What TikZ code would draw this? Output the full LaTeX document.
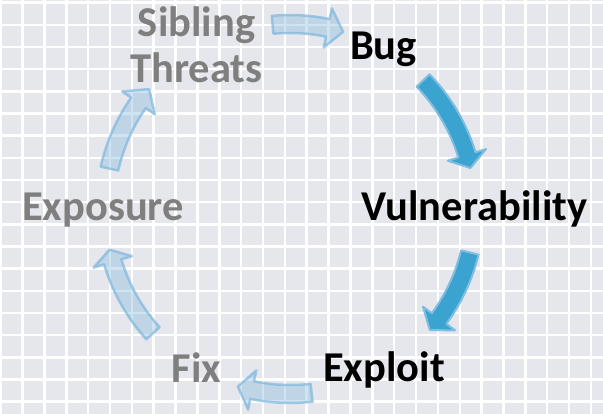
\documentclass[tikz,border=0pt]{standalone}
\usepackage{fontspec}
\setmainfont{Carlito}
\definecolor{cellgray}{RGB}{230,231,236}
\definecolor{stagegray}{RGB}{127,127,127}
\definecolor{arrowblue}{RGB}{59,163,208}
\definecolor{arrowedge}{RGB}{128,190,225}
\definecolor{arrowpale}{RGB}{120,180,220}

% block arrow on the cycle: style, tail angle, head base angle, tip angle
\newcommand{\cyclearrow}[4]{%
  \path[#1, shift={(hub)}] (#2:176pt) arc[start angle=#2, end angle=#3, radius=176pt]
    -- (#3:165pt) -- (#4:185pt) -- (#3:205pt) -- (#3:194pt)
    arc[start angle=#3, end angle=#2, radius=194pt] -- cycle;}

\begin{document}
\begin{tikzpicture}[x=1pt, y=1pt,
    stage/.style={font=\bfseries\fontsize{42.5}{46}\selectfont, inner sep=0pt, anchor=base, align=center},
    hot/.style={text=black},
    cold/.style={text=stagegray},
    gridline/.style={draw=white, line width=2.5pt},
    deeparrow/.style={fill=arrowblue, draw=arrowedge, line width=2pt, line join=round},
    palearrow/.style={fill=arrowpale, fill opacity=0.35, draw=arrowpale, draw opacity=0.65, line width=2.5pt, line join=round}
]
\useasboundingbox (0,0) rectangle (603,414);

% grid paper
\fill[cellgray] (0,0) rectangle (603,414);
\foreach \k in {0,...,27} \draw[gridline] (0.7+21.86*\k,0) -- ++(0,414);
\foreach \k in {0,...,18} \draw[gridline] (0,411.3-22.16*\k) -- ++(603,0);

% stages
\coordinate (hub) at (290,205);
\node[stage, cold] (sibling) at (196.5,331) {Sibling\\Threats};
\node[stage, hot] (bug) at (383.5,354) {Bug};
\node[stage, hot] (vuln) at (474.5,193) {Vulnerability};
\node[stage, hot] (exploit) at (384,32) {Exploit};
\node[stage, cold] (fix) at (196.5,31.5) {Fix};
\node[stage, cold] (exposure) at (103,193) {Exposure};

% arrows round the cycle
\cyclearrow{palearrow}{95.4}{78.2}{73.3}
\cyclearrow{deeparrow}{44}{17}{12.8}
\cyclearrow{deeparrow}{-13.6}{-36.3}{-40.9}
\cyclearrow{palearrow}{-83.3}{-101.8}{-106.4}
\cyclearrow{palearrow}{-137.8}{-163.4}{-167.3}
\cyclearrow{palearrow}{167.4}{145}{139.6}
\end{tikzpicture}
\end{document}
